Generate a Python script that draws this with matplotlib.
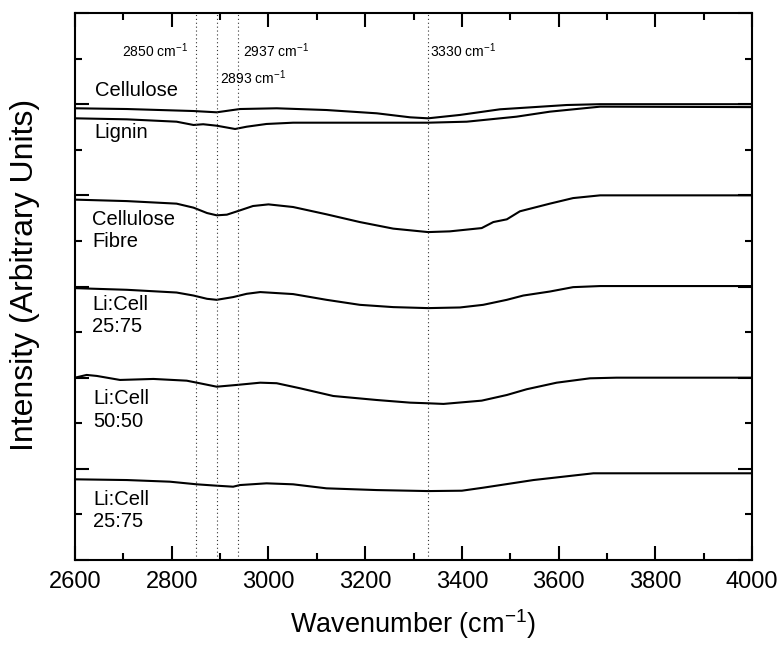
import matplotlib as mpl
mpl.use("Agg")
import matplotlib.pyplot as plt
from matplotlib.ticker import MultipleLocator, NullFormatter

plt.rcParams['font.family'] = ['Liberation Sans', 'DejaVu Sans']
plt.rcParams['mathtext.fontset'] = 'custom'
plt.rcParams['mathtext.rm'] = 'Liberation Sans'
plt.rcParams['mathtext.it'] = 'Liberation Sans:italic'

# spectra, values relative to each trace's offset (arbitrary units)
cellulose_wn = [2600, 2707, 2845, 2893, 2941, 3017, 3120, 3224, 3293, 3330, 3396, 3479, 3617, 3686, 4000]
cellulose_val = [-0.045, -0.053, -0.075, -0.089, -0.053, -0.045, -0.064, -0.100, -0.144, -0.155,
                 -0.118, -0.056, -0.009, 0.0, 0.0]

lignin_wn = [2600, 2707, 2810, 2845, 2865, 2893, 2931, 2955, 2996, 3051, 3258, 3330, 3410, 3513,
             3582, 3686, 4000]
lignin_val = [-0.155, -0.166, -0.192, -0.228, -0.220, -0.236, -0.272, -0.247, -0.217, -0.203, -0.203,
              -0.203, -0.192, -0.137, -0.082, -0.027, -0.032]

fibre_wn = [2600, 2707, 2810, 2845, 2873, 2893, 2914, 2941, 2968, 3000, 3051, 3120, 3189, 3258,
            3330, 3375, 3441, 3465, 3493, 3520, 3582, 3630, 3686, 4000]
fibre_val = [-0.047, -0.063, -0.091, -0.135, -0.194, -0.219, -0.212, -0.165, -0.117, -0.099, -0.128,
             -0.208, -0.293, -0.365, -0.403, -0.395, -0.359, -0.293, -0.263, -0.175, -0.091, -0.030,
             0.0, 0.0]

licell25_wn = [2600, 2707, 2810, 2845, 2873, 2893, 2927, 2955, 2983, 3051, 3120, 3189, 3258, 3330,
               3396, 3444, 3493, 3527, 3582, 3630, 3686, 4000]
licell25_val = [-0.018, -0.036, -0.066, -0.099, -0.135, -0.146, -0.116, -0.080, -0.061, -0.083,
                -0.146, -0.201, -0.226, -0.237, -0.230, -0.201, -0.146, -0.099, -0.055, -0.007,
                0.005, 0.005]

licell50_wn = [2600, 2624, 2645, 2693, 2762, 2831, 2852, 2893, 2934, 2983, 3017, 3065, 3134, 3224,
               3293, 3330, 3362, 3441, 3493, 3534, 3596, 3665, 3720, 4000]
licell50_val = [0.0, 0.030, 0.019, -0.025, -0.014, -0.033, -0.055, -0.099, -0.080, -0.055, -0.061,
                -0.116, -0.201, -0.245, -0.274, -0.281, -0.288, -0.252, -0.190, -0.127, -0.055,
                -0.007, 0.0, 0.0]

licell25b_wn = [2600, 2707, 2796, 2852, 2893, 2927, 2941, 2996, 3051, 3120, 3224, 3330, 3400, 3444,
                3548, 3672, 4000]
licell25b_val = [-0.115, -0.123, -0.141, -0.170, -0.185, -0.196, -0.178, -0.159, -0.170, -0.214,
                 -0.233, -0.244, -0.240, -0.207, -0.123, -0.049, -0.049]

spectra = [(cellulose_wn, cellulose_val), (lignin_wn, lignin_val), (fibre_wn, fibre_val),
           (licell25_wn, licell25_val), (licell50_wn, licell50_val), (licell25b_wn, licell25b_val)]
offsets = [5, 5, 4, 3, 2, 1]

labels = ["Cellulose", "Lignin", "Cellulose\nFibre", "Li:Cell\n25:75", "Li:Cell\n50:50", "Li:Cell\n25:75"]
label_x = [2641, 2641, 2635, 2635, 2637, 2637]
label_y = [5.155, 4.684, 3.614, 2.682, 1.645, 0.543]

peaks = [2850, 2893, 2937, 3330]
peak_x = [2834, 2900, 2947, 3334]
peak_y = [5.514, 5.221, 5.514, 5.514]
peak_ha = ['right', 'left', 'left', 'left']

fig = plt.figure(figsize=(7.8, 6.45), dpi=100)
ax = fig.add_axes([0.0962, 0.1318, 0.8679, 0.848])

for (wn, val), off in zip(spectra, offsets):
    ax.plot(wn, [v + off for v in val], color='black', lw=1.5)

for p in peaks:
    ax.axvline(p, color='#333333', ls=(0, (1, 2.5)), lw=0.8)

for p, x, y, ha in zip(peaks, peak_x, peak_y, peak_ha):
    ax.text(x, y, "%d cm$^{-1}$" % p, fontsize=10, ha=ha, va='baseline')

for lab, x, y in zip(labels, label_x, label_y):
    ax.text(x, y, lab, fontsize=14.5, ha='left', va='center', linespacing=1.25)

ax.set_xlim(2600, 4000)
ax.set_ylim(0, 6)
ax.xaxis.set_major_locator(MultipleLocator(200))
ax.xaxis.set_minor_locator(MultipleLocator(100))
ax.yaxis.set_major_locator(MultipleLocator(1))
ax.yaxis.set_minor_locator(MultipleLocator(0.5))
ax.yaxis.set_major_formatter(NullFormatter())
ax.tick_params(which='both', direction='in', top=True, right=True, width=1.5)
ax.tick_params(which='major', length=10)
ax.tick_params(which='minor', length=5)
ax.tick_params(axis='x', labelsize=17, pad=8)
for s in ax.spines.values():
    s.set_linewidth(1.5)

ax.set_xlabel("Wavenumber (cm$^{-1}$)", fontsize=19.5, labelpad=10)
ax.set_ylabel("Intensity (Arbitrary Units)", fontsize=23)
ax.yaxis.set_label_coords(-0.052, 0.522)

fig.savefig("out.png", dpi=100)
